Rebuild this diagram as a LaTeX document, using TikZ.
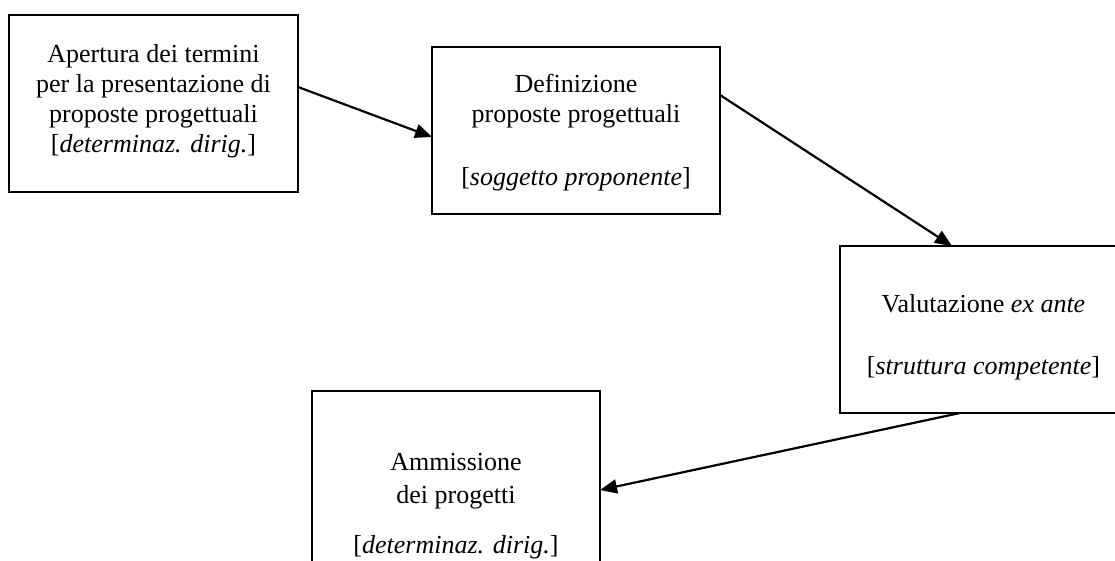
\documentclass[tikz,border=0pt]{standalone}
\usepackage{fontspec}
\setmainfont{Liberation Serif}
\usetikzlibrary{arrows.meta}
\begin{document}
\begin{tikzpicture}[x=1pt,y=-1pt,
  stagebox/.style={draw=black, line width=2pt, rectangle, inner sep=0pt, outer sep=0pt},
  stagetext/.style={align=center, font=\fontsize{26}{30}\selectfont, inner sep=0pt},
  flow/.style={line width=2.2pt, -{Triangle[length=17pt,width=14pt]}}]
\fill[white] (0,0) rectangle (1115,561);
\useasboundingbox (0,0) rectangle (1115,561);
% boxes
\node[stagebox, minimum width=289pt, minimum height=177pt] (A) at (153.5,103.5) {};
\node[stagebox, minimum width=288pt, minimum height=167pt] (B) at (576,130.5) {};
\node[stagebox, minimum width=287pt, minimum height=167pt] (C) at (983.5,329.5) {};
\node[stagebox, minimum width=288pt, minimum height=226pt] (D) at (456,504) {};
% texts
\node[stagetext] (At) at (153.5,101) {Apertura dei termini\\per la presentazione di\\proposte progettuali\\{[}\textit{determinaz. dirig.}{]}};
\node[stagetext] (Bt) at (576,132.5) {Definizione\\proposte progettuali\\[33pt]{[}\textit{soggetto proponente}{]}};
\node[stagetext] (Ct) at (983.5,337) {Valutazione \textit{ex ante}\\[32pt]{[}\textit{struttura competente}{]}};
\node[stagetext] (Dt) at (456,506) {Ammissione\\[3pt]dei progetti\\[20pt]{[}\textit{determinaz. dirig.}{]}};
% connectors
\draw[flow] ([yshift=16.5pt]A.east) -- ([yshift=-6.5pt]B.west);
\draw[flow] ([yshift=35.5pt]B.east) -- ([xshift=-31.5pt]C.north);
\draw[flow] ([xshift=-23.5pt]C.south) -- ([yshift=14pt]D.east);
\end{tikzpicture}
\end{document}
